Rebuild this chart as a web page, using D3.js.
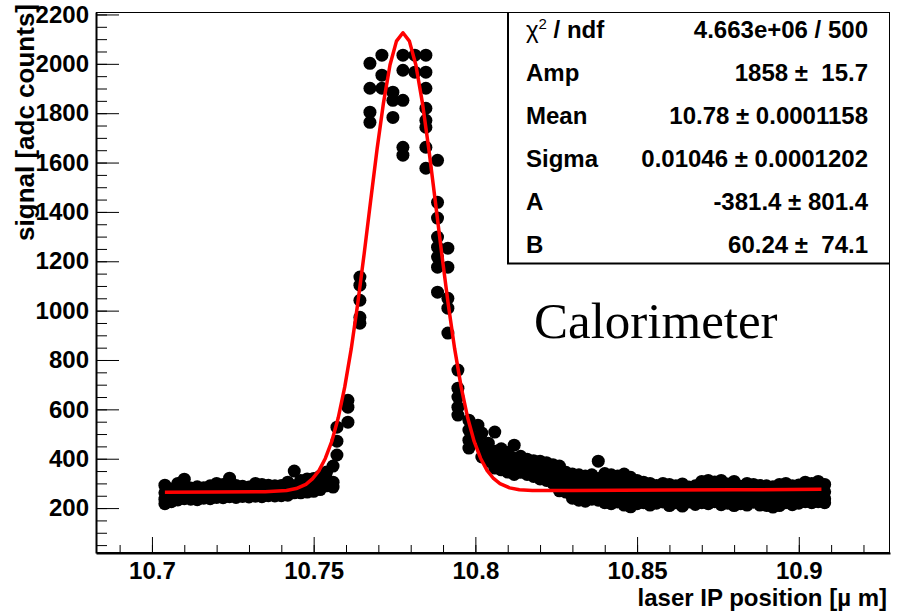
<!DOCTYPE html>
<html>
<head>
<meta charset="utf-8">
<script src="https://cdn.jsdelivr.net/npm/d3@7"></script>
<style>
body { margin: 0; background: #fff; }
svg text { font-family: "Liberation Sans", Arial, Helvetica, sans-serif; font-weight: bold; fill: #000; }
</style>
</head>
<body>
<svg id="chart" width="897" height="614"></svg>
<script>
// scan positions [um] and the signal readings taken at each one [adc counts]
var scanPos = [10.704, 10.706, 10.708, 10.710, 10.712, 10.714, 10.716, 10.718, 10.720, 10.722,
  10.724, 10.726, 10.728, 10.730, 10.732, 10.734, 10.736, 10.738, 10.740, 10.742,
  10.744, 10.746, 10.748, 10.750, 10.752, 10.754, 10.756,
  10.7572, 10.7606, 10.7643, 10.7674, 10.7711, 10.7745, 10.7776, 10.7813, 10.7847, 10.7883,
  10.7915, 10.7946, 10.798, 10.8008,
  10.802, 10.804, 10.806, 10.808, 10.810, 10.812, 10.814, 10.816, 10.818, 10.820,
  10.822, 10.824, 10.826, 10.828, 10.830, 10.832, 10.834, 10.836, 10.838, 10.840,
  10.842, 10.844, 10.846, 10.848, 10.850, 10.852, 10.854, 10.856, 10.858, 10.860,
  10.862, 10.864, 10.866, 10.868, 10.870, 10.872, 10.874, 10.876, 10.878, 10.880,
  10.882, 10.884, 10.886, 10.888, 10.890, 10.892, 10.894, 10.896, 10.898, 10.900,
  10.902, 10.904, 10.906, 10.908];

var signal = [
  [293, 262, 236, 218], [277, 250, 226], [300, 258, 233], [317, 275, 238], [281, 256, 236],
  [286, 252, 234], [282, 262, 240], [290, 255, 238], [300, 268, 243], [296, 258, 242],
  [321, 280, 246], [292, 262, 243], [288, 266, 247], [285, 260, 245], [300, 270, 248],
  [296, 262, 246], [293, 267, 250], [290, 270, 249], [292, 262, 250], [305, 275, 252],
  [350, 290, 262], [312, 285, 262], [318, 290, 265], [320, 296, 268], [330, 300, 275],
  [346, 318, 290], [370, 305, 285],
  [528, 471, 415], [637, 609, 548], [1136, 1103, 1042, 973, 949],
  [2002, 1901, 1804, 1763], [2035, 1954, 1901], [1885, 1852, 1783],
  [2035, 1974, 1852, 1662, 1630], [2035, 1966],
  [2035, 1966, 1901, 1820, 1771, 1743, 1662, 1577],
  [1609, 1439, 1375, 1298, 1257, 1217, 1176, 1075],
  [1253, 1176, 1050, 1010, 909], [759, 686, 650, 609, 577], [556, 516, 475, 443], [536, 488],
  [504, 447, 407], [463, 423, 390], [508, 430, 395, 362], [440, 394, 355], [425, 380, 346],
  [455, 402, 362, 336], [410, 380, 345], [398, 368, 336], [392, 360, 328], [390, 350, 318],
  [384, 345, 312], [376, 338, 300], [370, 332, 295, 270], [345, 308, 265], [338, 300, 258, 240],
  [335, 296, 252, 232], [330, 290, 250, 228], [335, 300, 258, 236], [390, 320, 275, 232], [340, 295, 252, 222],
  [335, 292, 250, 218], [330, 300, 258, 225], [338, 296, 245, 212], [325, 290, 242, 205], [312, 282, 246, 218],
  [305, 278, 240, 222], [300, 268, 236, 212], [292, 265, 232, 220], [300, 272, 240, 225], [296, 262, 236, 210],
  [290, 268, 240, 222], [298, 262, 232, 208], [285, 262, 240, 225], [290, 266, 236, 215], [308, 275, 246, 222],
  [312, 280, 244, 218], [306, 276, 248, 226], [312, 282, 246, 214], [298, 270, 240, 220], [308, 276, 246, 210],
  [288, 262, 236, 218], [300, 270, 238, 212], [296, 266, 240, 224], [292, 262, 236, 212], [290, 258, 232, 210],
  [286, 256, 228, 204], [296, 264, 236, 210], [300, 270, 242, 222], [290, 260, 234, 214], [294, 266, 238, 220],
  [305, 275, 246, 226], [300, 270, 242, 222], [308, 280, 250, 226], [296, 266, 238, 222]
];

// fitted curve
var fitX = [10.704, 10.72, 10.735, 10.7416, 10.7446, 10.7476, 10.7496, 10.7516, 10.7536, 10.7556,
  10.7576, 10.7596, 10.7616, 10.7636, 10.7656, 10.7676, 10.7696, 10.7716, 10.7736, 10.7756,
  10.7776, 10.7796, 10.7816, 10.7836, 10.7856, 10.7876, 10.7896, 10.7916, 10.7936, 10.7956,
  10.7976, 10.7996, 10.8016, 10.8036, 10.8056, 10.8076, 10.8106, 10.8136, 10.8176, 10.83,
  10.86, 10.88, 10.907];
var fitY = [264, 265, 266, 271, 279, 296, 318, 351, 401, 470,
  566, 690, 844, 1026, 1229, 1443, 1654, 1843, 1995, 2092,
  2126, 2092, 1995, 1844, 1655, 1444, 1230, 1027, 845, 691,
  567, 471, 402, 353, 320, 299, 282, 274, 271, 271,
  273, 274, 276];

var xMajor = [10.7, 10.75, 10.8, 10.85, 10.9];
var xLabels = ["10.7", "10.75", "10.8", "10.85", "10.9"];
var yMajor = [200, 400, 600, 800, 1000, 1200, 1400, 1600, 1800, 2000, 2200];

var statNames = ["Amp", "Mean", "Sigma", "A", "B"];
var statValues = ["4.663e+06 / 500", "1858 \u00b1  15.7", "10.78 \u00b1 0.0001158",
  "0.01046 \u00b1 0.0001202", "-381.4 \u00b1 801.4", "60.24 \u00b1  74.1"];

var svg = d3.select("#chart");
var padL = 96, padR = 890, padT = 12, padB = 553;

var x = d3.scaleLinear().domain([10.6827, 10.9282]).range([padL, padR]);
var y = d3.scaleLinear().domain([18, 2210]).range([padB, padT]);

svg.append("rect").attr("width", 897).attr("height", 614).attr("fill", "#fff");

// frame
svg.append("rect")
  .attr("x", padL + 0.5).attr("y", padT + 0.5)
  .attr("width", padR - padL - 1).attr("height", padB - padT - 1)
  .attr("fill", "none").attr("stroke", "#000").attr("stroke-width", 1);

// minor ticks
var xMinor = d3.range(10.69, 10.925, 0.01).map(function(d) { return +d.toFixed(3); });
var yMinor = d3.range(50, 2201, 50);

svg.append("g")
  .attr("transform", "translate(0," + padB + ")")
  .call(d3.axisBottom(x).tickValues(xMinor).tickSize(-8).tickFormat(""))
  .call(function(g) { g.select(".domain").remove(); });
svg.append("g")
  .attr("transform", "translate(" + padL + ",0)")
  .call(d3.axisLeft(y).tickValues(yMinor).tickSize(-11).tickFormat(""))
  .call(function(g) { g.select(".domain").remove(); });

// major ticks + labels
var xAxis = svg.append("g")
  .attr("transform", "translate(0," + padB + ")")
  .call(d3.axisBottom(x).tickValues(xMajor).tickSize(-16).tickSizeOuter(0).tickPadding(9)
    .tickFormat(function(d, i) { return xLabels[i]; }));
xAxis.selectAll("text").style("font-size", "24px").attr("fill", "#000");
xAxis.select(".domain").attr("stroke-width", 2);

var yAxis = svg.append("g")
  .attr("transform", "translate(" + padL + ",0)")
  .call(d3.axisLeft(y).tickValues(yMajor).tickSize(-23).tickSizeOuter(0).tickPadding(7)
    .tickFormat(d3.format("d")));
yAxis.selectAll("text").style("font-size", "24px").attr("fill", "#000");
yAxis.select(".domain").attr("stroke-width", 2);

// data points
var pts = [];
scanPos.forEach(function(p, i) {
  signal[i].forEach(function(v) { pts.push([p, v]); });
});
svg.append("g").selectAll("circle")
  .data(pts).enter().append("circle")
  .attr("cx", function(d) { return x(d[0]); })
  .attr("cy", function(d) { return y(d[1]); })
  .attr("r", 6.5)
  .attr("fill", "#000");

// fit line
var line = d3.line()
  .x(function(d, i) { return x(fitX[i]); })
  .y(function(d) { return y(d); });
svg.append("path")
  .attr("d", line(fitY))
  .attr("fill", "none").attr("stroke", "#ff0000").attr("stroke-width", 3.5)
  .attr("stroke-linejoin", "round");

// axis titles
svg.append("text")
  .attr("x", 887).attr("y", 606)
  .attr("text-anchor", "end")
  .style("font-size", "24px")
  .text("laser IP position [\u00b5 m]");

svg.append("text")
  .attr("transform", "translate(34,4) rotate(-90)")
  .attr("text-anchor", "end")
  .style("font-size", "26px")
  .text("signal [adc counts]");

// stats box
var box = svg.append("g");
box.append("rect")
  .attr("x", 507.5).attr("y", 12.5).attr("width", 382).attr("height", 251)
  .attr("fill", "#fff").attr("stroke", "#000").attr("stroke-width", 1);
box.append("line").attr("x1", 507).attr("x2", 890).attr("y1", 263.5).attr("y2", 263.5)
  .attr("stroke", "#000").attr("stroke-width", 2);
box.append("line").attr("x1", 508).attr("x2", 508).attr("y1", 12).attr("y2", 264)
  .attr("stroke", "#000").attr("stroke-width", 2);

var rowY = function(i) { return 38 + 43 * i; };

var chi = box.append("text").attr("x", 526).attr("y", rowY(0)).style("font-size", "24px");
chi.append("tspan").style("font-weight", "normal").text("\u03c7");
chi.append("tspan").attr("dy", -9).style("font-size", "15px").style("font-weight", "normal").text("2");
chi.append("tspan").attr("dy", 9).text(" / ndf");

box.selectAll("text.name")
  .data(statNames).enter().append("text")
  .attr("class", "name")
  .attr("x", 526).attr("y", function(d, i) { return rowY(i + 1); })
  .style("font-size", "24px")
  .text(function(d) { return d; });

box.selectAll("text.val")
  .data(statValues).enter().append("text")
  .attr("class", "val")
  .attr("x", 868).attr("y", function(d, i) { return rowY(i); })
  .attr("text-anchor", "end")
  .style("font-size", "24px")
  .style("white-space", "pre")
  .text(function(d) { return d; });

svg.append("text")
  .attr("x", 534).attr("y", 338)
  .style("font-family", "'Liberation Serif', 'Times New Roman', serif")
  .style("font-weight", "normal")
  .style("font-size", "51px")
  .text("Calorimeter");
</script>
</body>
</html>
